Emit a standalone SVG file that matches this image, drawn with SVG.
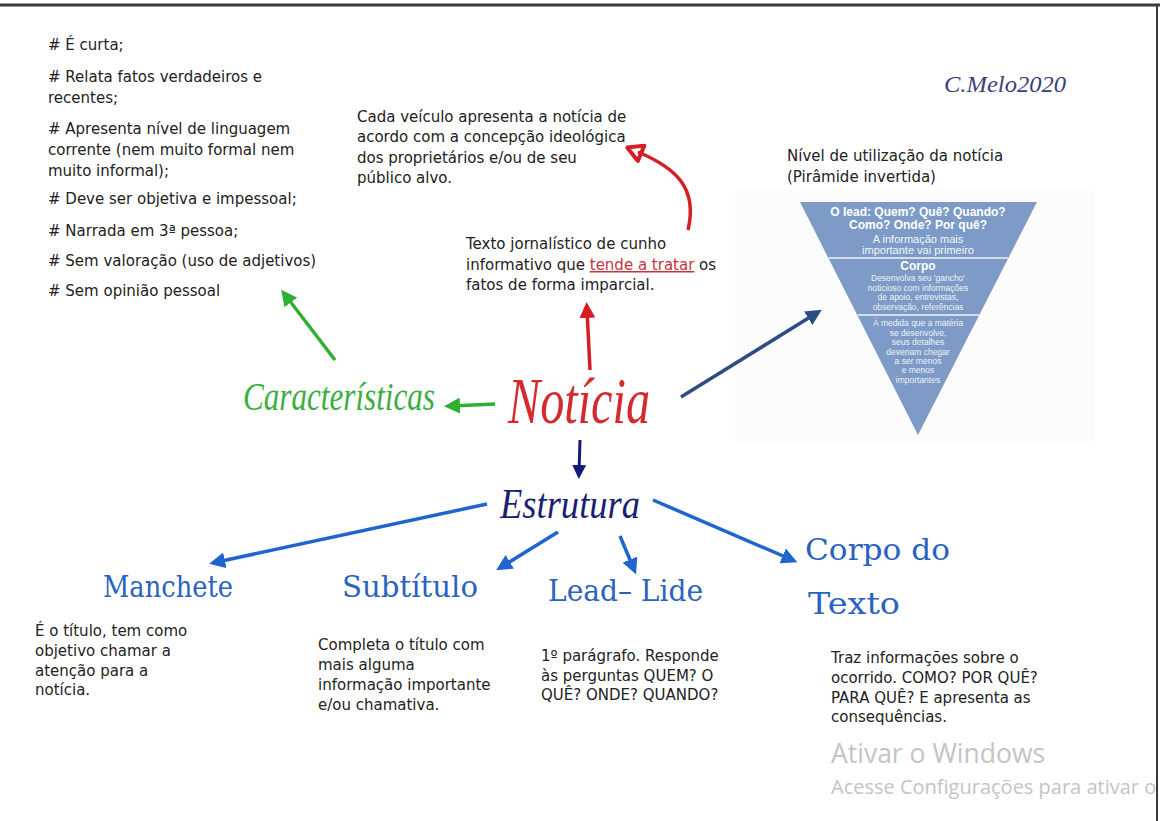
<svg xmlns="http://www.w3.org/2000/svg" width="1160" height="821" viewBox="0 0 1160 821">
<defs>
<style>
.t{font-family:"DejaVu Sans","Verdana",sans-serif;font-size:15px;fill:#222}
.pb{font-family:"Liberation Sans",Arial,sans-serif;font-size:12px;font-weight:bold;fill:#fff;text-anchor:middle}
.pn{font-family:"Liberation Sans",Arial,sans-serif;font-size:11px;fill:#f4f6fa;text-anchor:middle}
.ps{font-family:"Liberation Sans",Arial,sans-serif;font-size:8.5px;fill:#eef2f8;text-anchor:middle}
.script{font-family:"Liberation Serif","DejaVu Serif",serif;font-style:italic}
.deco{font-family:"DejaVu Serif","Liberation Serif",serif;fill:#2a62c0}
.win{font-family:"Open Sans","Noto Sans",sans-serif;fill:#c4c4c4}
.cg{stroke:#2fb033;stroke-width:3.5;fill:none}
.cr{stroke:#d41e24;stroke-width:3.5;fill:none}
.cd{stroke:#2d4d82;stroke-width:3.5;fill:none}
.cn{stroke:#141a78;stroke-width:3;fill:none}
.cb{stroke:#1f64cf;stroke-width:3.5;fill:none}
</style>
<marker id="mg" viewBox="0 0 10 10" refX="5" refY="5" markerWidth="16" markerHeight="16" markerUnits="userSpaceOnUse" orient="auto"><path d="M0,0 L10,5 L0,10 z" fill="#2fb033"/></marker>
<marker id="mr" viewBox="0 0 10 10" refX="5" refY="5" markerWidth="16" markerHeight="16" markerUnits="userSpaceOnUse" orient="auto"><path d="M0,0 L10,5 L0,10 z" fill="#d41e24"/></marker>
<marker id="mro" viewBox="0 0 12 12" refX="4" refY="6" markerWidth="20" markerHeight="20" markerUnits="userSpaceOnUse" orient="auto"><path d="M10,1 L1,6 L10,11 z" fill="none" stroke="#d41e24" stroke-width="2.4" stroke-linejoin="round" transform="rotate(180 6 6)"/></marker>
<marker id="md" viewBox="0 0 10 10" refX="5" refY="5" markerWidth="16" markerHeight="16" markerUnits="userSpaceOnUse" orient="auto"><path d="M0,0 L10,5 L0,10 z" fill="#2d4d82"/></marker>
<marker id="mn" viewBox="0 0 10 10" refX="5" refY="5" markerWidth="14" markerHeight="14" markerUnits="userSpaceOnUse" orient="auto"><path d="M0,0 L10,5 L0,10 z" fill="#141a78"/></marker>
<marker id="mb" viewBox="0 0 10 10" refX="5" refY="5" markerWidth="16" markerHeight="16" markerUnits="userSpaceOnUse" orient="auto"><path d="M0,0 L10,5 L0,10 z" fill="#1f64cf"/></marker>
</defs>
<rect x="0" y="0" width="1160" height="821" fill="#ffffff"/>
<line x1="0" y1="5" x2="1160" y2="5" stroke="#3a3a3a" stroke-width="3"/>
<line x1="1157" y1="5" x2="1157" y2="821" stroke="#3a3a3a" stroke-width="2"/>

<g id="caracteristicas-lista">
<text class="t" x="48" y="50"># É curta;</text>
<text class="t" x="48" y="82"># Relata fatos verdadeiros e</text>
<text class="t" x="48" y="103">recentes;</text>
<text class="t" x="48" y="134"># Apresenta nível de linguagem</text>
<text class="t" x="48" y="155">corrente (nem muito formal nem</text>
<text class="t" x="48" y="176">muito informal);</text>
<text class="t" x="48" y="204"># Deve ser objetiva e impessoal;</text>
<text class="t" x="48" y="236"># Narrada em 3ª pessoa;</text>
<text class="t" x="48" y="266"># Sem valoração (uso de adjetivos)</text>
<text class="t" x="48" y="296"># Sem opinião pessoal</text>
</g>

<g id="assinatura">
<text x="944" y="92" font-family="Liberation Serif, DejaVu Serif, serif" font-style="italic" font-size="24" fill="#3a3f7a" textLength="122" lengthAdjust="spacingAndGlyphs">C.Melo2020</text>
</g>

<g id="veiculo">
<text class="t" x="357" y="122">Cada veículo apresenta a notícia de</text>
<text class="t" x="357" y="142">acordo com a concepção ideológica</text>
<text class="t" x="357" y="163">dos proprietários e/ou de seu</text>
<text class="t" x="357" y="183">público alvo.</text>
</g>

<g id="definicao">
<text class="t" x="466" y="249">Texto jornalístico de cunho</text>
<text class="t" x="466" y="270">informativo que <tspan fill="#c8323a" text-decoration="underline">tende a tratar</tspan> os</text>
<text class="t" x="466" y="290">fatos de forma imparcial.</text>
</g>

<g id="piramide">
<rect x="735" y="190" width="360" height="252" fill="#fcfcfd"/>
<text class="t" x="787" y="161">Nível de utilização da notícia</text>
<text class="t" x="787" y="182">(Pirâmide invertida)</text>
<polygon points="800,202 1037,202 918,435" fill="#7d9bc6"/>
<line x1="829" y1="258" x2="1008" y2="258" stroke="#f0f3f8" stroke-width="1.5"/>
<line x1="858" y1="315" x2="979" y2="315" stroke="#f0f3f8" stroke-width="1.5"/>
<text class="pb" x="918" y="216">O lead: Quem? Quê? Quando?</text>
<text class="pb" x="918" y="229">Como? Onde? Por quê?</text>
<text class="pn" x="918" y="243">A informação mais</text>
<text class="pn" x="918" y="254">importante vai primeiro</text>
<text class="pb" x="918" y="270" font-size="10.5">Corpo</text>
<text class="ps" x="918" y="281">Desenvolva seu 'gancho'</text>
<text class="ps" x="918" y="291">noticioso com informações</text>
<text class="ps" x="918" y="300">de apoio, entrevistas,</text>
<text class="ps" x="918" y="310">observação, referências</text>
<text class="ps" x="918" y="326">À medida que a matéria</text>
<text class="ps" x="918" y="336">se desenvolve,</text>
<text class="ps" x="918" y="345">seus detalhes</text>
<text class="ps" x="918" y="355">deveriam chegar</text>
<text class="ps" x="918" y="364">a ser menos</text>
<text class="ps" x="918" y="373">e menos</text>
<text class="ps" x="918" y="383">importantes</text>
</g>

<g id="noticia">
<text class="script" x="508" y="423" font-size="66" fill="#d42a2e" textLength="142" lengthAdjust="spacingAndGlyphs">Notícia</text>
</g>

<g id="caracteristicas">
<text class="script" x="243" y="410" font-size="40" fill="#3bae3f" textLength="192" lengthAdjust="spacingAndGlyphs">Características</text>
</g>

<g id="estrutura">
<text class="script" x="500" y="518" font-size="42" fill="#1c1f70" textLength="140" lengthAdjust="spacingAndGlyphs">Estrutura</text>
</g>

<g id="manchete">
<text class="deco" x="103" y="597" font-size="30" textLength="130" lengthAdjust="spacingAndGlyphs">Manchete</text>
<text class="t" x="35" y="636">É o título, tem como</text>
<text class="t" x="35" y="656">objetivo chamar a</text>
<text class="t" x="35" y="676">atenção para a</text>
<text class="t" x="35" y="695">notícia.</text>
</g>

<g id="subtitulo">
<text class="deco" x="342" y="597" font-size="30" textLength="136" lengthAdjust="spacingAndGlyphs">Subtítulo</text>
<text class="t" x="318" y="650">Completa o título com</text>
<text class="t" x="318" y="670">mais alguma</text>
<text class="t" x="318" y="690">informação importante</text>
<text class="t" x="318" y="710">e/ou chamativa.</text>
</g>

<g id="lead">
<text class="deco" x="548" y="601" font-size="30" textLength="155" lengthAdjust="spacingAndGlyphs">Lead– Lide</text>
<text class="t" x="541" y="661">1º parágrafo. Responde</text>
<text class="t" x="541" y="681">às perguntas QUEM? O</text>
<text class="t" x="541" y="700">QUÊ? ONDE? QUANDO?</text>
</g>

<g id="corpo">
<text class="deco" x="805" y="560" font-size="30" textLength="145" lengthAdjust="spacingAndGlyphs">Corpo do</text>
<text class="deco" x="808" y="614" font-size="30" textLength="92" lengthAdjust="spacingAndGlyphs">Texto</text>
<text class="t" x="831" y="663">Traz informações sobre o</text>
<text class="t" x="831" y="683">ocorrido. COMO? POR QUÊ?</text>
<text class="t" x="831" y="703">PARA QUÊ?  E apresenta as</text>
<text class="t" x="831" y="722">consequências.</text>
</g>

<g id="windows">
<text class="win" x="831" y="763" font-size="26.5">Ativar o Windows</text>
<text class="win" x="831" y="794" font-size="20">Acesse Configurações para ativar o</text>
</g>

<g id="conectores">
<line class="cg" x1="335" y1="360" x2="286" y2="296" marker-end="url(#mg)"/>
<line class="cg" x1="495" y1="404" x2="452" y2="406" marker-end="url(#mg)"/>
<line class="cr" x1="590" y1="370" x2="587" y2="310" marker-end="url(#mr)"/>
<path class="cr" d="M688,230 C698,188 676,168 638,152" marker-end="url(#mro)"/>
<line class="cd" x1="681" y1="397" x2="815" y2="314" marker-end="url(#md)"/>
<line class="cn" x1="580" y1="440" x2="579" y2="472" marker-end="url(#mn)"/>
<line class="cb" x1="487" y1="504" x2="217" y2="562" marker-end="url(#mb)"/>
<line class="cb" x1="558" y1="532" x2="503" y2="566" marker-end="url(#mb)"/>
<line class="cb" x1="620" y1="536" x2="633" y2="567" marker-end="url(#mb)"/>
<line class="cb" x1="653" y1="500" x2="790" y2="559" marker-end="url(#mb)"/>
</g>
</svg>
